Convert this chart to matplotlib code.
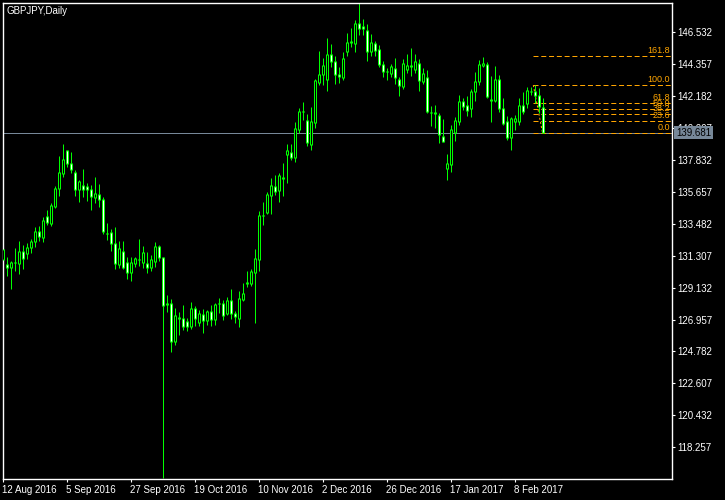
import numpy as np
import matplotlib
matplotlib.use("Agg")
import matplotlib.pyplot as plt
import matplotlib.transforms as mtransforms

# ----------------------------
# Data: GBPJPY daily candles
# ----------------------------
opens = [131.01, 130.67, 130.47, 130.81, 130.74, 131.56, 131.42, 131.83, 132.24, 132.92,
         132.51, 133.94, 133.46, 134.62, 135.91, 136.87, 138.43, 137.61, 137.00, 135.78,
         136.05, 135.98, 135.84, 135.23, 135.50, 135.10, 132.78, 132.85, 132.10, 130.67,
         131.56, 130.87, 130.19, 130.74, 131.01, 130.87, 130.74, 130.47, 130.94, 131.96,
         131.15, 127.95, 128.02, 125.43, 127.06, 127.06, 126.79, 126.45, 127.74, 126.72,
         127.33, 126.86, 127.47, 126.99, 128.02, 128.02, 127.40, 128.22, 127.40, 127.06,
         128.29, 129.44, 129.44, 130.13, 131.01, 134.01, 134.21, 135.37, 135.98, 135.71,
         136.59, 138.16, 138.36, 138.02, 139.86, 141.09, 140.54, 138.84, 140.34, 143.06,
         143.61, 143.27, 144.97, 144.49, 143.67, 143.40, 145.17, 145.85, 145.78, 147.08,
         146.94, 146.60, 145.17, 145.78, 145.31, 144.35, 143.81, 143.74, 144.08, 143.33,
         142.79, 143.95, 144.22, 144.01, 144.42, 143.13, 143.40, 141.02, 141.02, 140.88,
         139.45, 137.21, 137.48, 139.72, 140.47, 141.77, 141.50, 141.29, 142.45, 143.13,
         144.22, 144.35, 141.90, 141.84, 143.33, 141.29, 140.41, 139.32, 140.41, 140.41,
         141.56, 141.63, 142.45, 142.45, 142.24, 141.36]
highs = [132.10, 131.21, 130.94, 131.83, 132.30, 132.03, 132.17, 132.44, 133.26, 133.33,
         133.94, 134.41, 134.89, 136.05, 138.09, 138.91, 138.50, 138.36, 137.14, 136.46,
         137.21, 136.25, 136.12, 136.66, 136.18, 135.30, 133.53, 133.12, 133.26, 132.30,
         132.30, 131.21, 131.21, 131.21, 132.44, 131.96, 131.56, 131.35, 132.24, 132.03,
         131.21, 128.63, 128.36, 127.74, 127.47, 127.95, 127.06, 128.15, 127.88, 127.61,
         127.67, 127.61, 127.95, 128.08, 128.42, 128.29, 128.49, 129.04, 127.54, 128.90,
         129.44, 130.26, 130.40, 131.76, 134.35, 134.96, 135.64, 136.59, 136.80, 136.93,
         137.61, 138.91, 138.91, 140.41, 141.36, 141.77, 140.95, 141.43, 143.33, 145.24,
         144.76, 146.12, 145.72, 144.90, 144.15, 145.17, 146.46, 146.80, 147.35, 148.51,
         147.42, 147.08, 146.40, 145.92, 145.65, 144.56, 144.08, 144.35, 144.76, 143.47,
         144.69, 145.03, 145.44, 145.03, 144.69, 144.08, 143.95, 141.50, 141.56, 141.02,
         140.61, 138.23, 140.20, 140.75, 142.24, 142.04, 142.18, 142.65, 143.81, 144.63,
         144.83, 144.49, 143.54, 144.22, 143.61, 142.04, 140.81, 140.75, 140.88, 142.04,
         142.45, 142.79, 142.79, 142.92, 142.72, 142.04]
lows = [130.81, 129.92, 129.04, 130.26, 130.06, 130.40, 131.08, 131.49, 131.90, 132.30,
        132.24, 133.39, 133.33, 134.55, 135.37, 136.66, 137.34, 136.93, 135.37, 134.96,
        135.30, 135.03, 134.41, 134.89, 134.62, 132.78, 132.37, 131.62, 130.40, 130.47,
        130.40, 129.72, 129.58, 130.53, 130.60, 130.47, 130.13, 130.26, 130.53, 130.94,
        116.17, 127.47, 124.75, 125.22, 125.90, 126.25, 126.18, 126.31, 126.52, 126.52,
        126.04, 126.59, 126.52, 126.59, 127.40, 126.93, 127.27, 126.99, 126.72, 126.45,
        128.22, 129.17, 129.24, 126.72, 130.26, 133.39, 134.14, 134.14, 135.44, 134.96,
        135.37, 136.25, 137.82, 137.68, 139.66, 140.54, 138.77, 138.50, 140.00, 142.92,
        142.92, 142.52, 144.15, 142.99, 143.06, 143.27, 144.90, 145.51, 145.17, 146.33,
        146.33, 144.56, 144.90, 144.90, 144.15, 143.47, 143.27, 143.47, 142.99, 142.18,
        142.65, 143.74, 143.54, 143.74, 142.52, 142.99, 141.02, 140.13, 140.00, 138.98,
        139.04, 136.46, 137.00, 139.11, 140.20, 141.22, 140.81, 140.75, 141.84, 142.92,
        144.15, 142.04, 140.41, 141.77, 141.09, 140.20, 139.18, 138.50, 139.86, 140.20,
        140.95, 141.36, 142.24, 141.70, 141.02, 139.66]
closes = [131.69, 130.47, 130.87, 130.84, 131.56, 131.08, 131.83, 132.30, 132.92, 132.58,
          133.67, 133.53, 134.69, 135.91, 137.00, 137.82, 137.55, 137.14, 135.78, 136.32,
          135.84, 135.78, 135.30, 135.57, 135.16, 132.92, 132.80, 132.10, 130.74, 131.76,
          130.53, 130.19, 130.81, 131.08, 131.03, 131.49, 130.53, 131.01, 131.96, 131.15,
          127.88, 128.08, 125.43, 127.20, 127.09, 126.45, 126.45, 127.74, 127.06, 127.40,
          126.86, 127.47, 126.99, 127.95, 128.05, 127.20, 128.22, 127.40, 127.13, 128.36,
          128.76, 129.47, 130.26, 131.08, 134.07, 134.04, 135.44, 136.05, 135.64, 136.73,
          136.62, 138.43, 138.02, 139.93, 141.15, 141.12, 138.98, 140.41, 143.20, 143.67,
          144.22, 144.97, 144.49, 143.67, 143.47, 144.76, 145.85, 145.88, 147.08, 146.80,
          146.74, 145.17, 145.85, 145.24, 144.35, 143.81, 143.84, 144.15, 143.40, 142.86,
          144.42, 144.22, 144.15, 144.49, 143.20, 143.74, 141.09, 141.05, 140.99, 139.52,
          139.11, 137.55, 139.86, 140.54, 141.77, 141.43, 141.22, 142.45, 143.13, 144.29,
          144.42, 142.11, 141.93, 143.33, 141.29, 140.27, 139.32, 140.61, 140.61, 141.56,
          141.09, 142.52, 142.48, 142.24, 141.43, 139.681]

date_labels = ["12 Aug 2016", "5 Sep 2016", "27 Sep 2016", "19 Oct 2016", "10 Nov 2016",
               "2 Dec 2016", "26 Dec 2016", "17 Jan 2017", "8 Feb 2017"]
date_bars = [0, 16, 32, 48, 64, 80, 96, 112, 128]

price_ticks = [146.532, 144.357, 142.182, 140.007, 137.832, 135.657, 133.482,
               131.307, 129.132, 126.957, 124.782, 122.607, 120.432, 118.257]
last_price = 139.681

# Fibonacci retracement anchors (bar, price)
fib_high_bar, fib_high = 133, 142.92
fib_low_bar, fib_low = 135, 139.681
fib_levels = [0.0, 0.236, 0.382, 0.5, 0.618, 1.0, 1.618]
fib_names = ["0.0", "23.6", "38.2", "50.0", "61.8", "100.0", "161.8"]

LIME = "#00ff00"
ORANGE = "#ffa500"
GRID_GREY = "#778899"

YMIN, YMAX = 116.099, 148.540
XMIN, XMAX = 0.0, 167.375
PX_PT = 0.72  # one pixel in points at dpi 100


def main():
    plt.rcParams["font.family"] = ["Liberation Sans", "DejaVu Sans"]
    plt.rcParams["lines.scale_dashes"] = False

    fig = plt.figure(figsize=(7.25, 5.0), dpi=100, facecolor="black")
    ax_h_px = 479 - 2.5
    ax = fig.add_axes([2.5 / 725, 21 / 500, (672 - 2.5) / 725, ax_h_px / 500])
    ax.set_facecolor("black")

    px = (YMAX - YMIN) / ax_h_px  # one pixel in price units

    o = np.asarray(opens)
    h = np.asarray(highs)
    l = np.asarray(lows)
    c = np.asarray(closes)
    x = np.arange(len(o))

    top = np.maximum(o, c)
    bot = np.minimum(o, c)

    # wicks, 1 px
    ax.vlines(x, l, h, colors=LIME, linewidth=PX_PT, zorder=2)
    # body outline: 3 px wide lime stroke
    ax.vlines(x, bot - 0.5 * px, top + 0.5 * px, colors=LIME, linewidth=3 * PX_PT,
              zorder=3)
    # body inside: white for bear, black for bull (1 px)
    fill = ["black" if cc >= oo else "white" for oo, cc in zip(opens, closes)]
    inner = (top - bot) > 1.5 * px
    ax.vlines(x[inner], bot[inner] + 0.5 * px, top[inner] - 0.5 * px,
              colors=[f for f, k in zip(fill, inner) if k], linewidth=PX_PT, zorder=4)

    # last price line
    ax.axhline(last_price, color=GRID_GREY, linewidth=PX_PT, zorder=1)

    # fibonacci retracement
    rng = fib_high - fib_low
    blend = mtransforms.blended_transform_factory(ax.transAxes, ax.transData)
    for lev, name in zip(fib_levels, fib_names):
        p = fib_low + lev * rng
        ax.plot([fib_high_bar - 0.3, XMAX], [p, p], color=ORANGE, linewidth=PX_PT,
                dashes=(3.6, 2.0), zorder=1.5)
        ax.text(0.997, p + px, name, transform=blend,
                color=ORANGE, fontsize=6.5, ha="right", va="bottom", zorder=5)
    ax.plot([fib_high_bar - 0.3, fib_low_bar], [fib_high, fib_low], color=ORANGE,
            linewidth=PX_PT, dashes=(1.5, 1.5), zorder=1.5)

    ax.set_xlim(XMIN, XMAX)
    ax.set_ylim(YMIN, YMAX)

    for sp in ax.spines.values():
        sp.set_color("white")
        sp.set_linewidth(1.0)

    ax.yaxis.tick_right()
    ax.set_yticks(price_ticks)
    ax.set_yticklabels([f"{t:.3f}" for t in price_ticks])
    ax.tick_params(axis="y", colors="white", labelcolor="white", labelsize=7,
                   length=2.5, width=0.8, pad=1)

    ax.set_xticks(date_bars)
    ax.set_xticklabels(date_labels, ha="left")
    ax.tick_params(axis="x", colors="white", labelcolor="white", labelsize=7,
                   length=2.5, width=0.8, pad=2)

    # last price tag on the axis
    ax.text(1.006, last_price, f"{last_price:.3f}", transform=blend,
            color="black", fontsize=7, ha="left", va="center", zorder=6, clip_on=False,
            bbox=dict(boxstyle="square,pad=0.18", facecolor=GRID_GREY, edgecolor="none"))

    ax.text(0.006, 0.992, "GBPJPY,Daily", transform=ax.transAxes, color="white",
            fontsize=7, ha="left", va="top")

    fig.savefig("out.png", dpi=100, facecolor="black")


if __name__ == "__main__":
    main()
